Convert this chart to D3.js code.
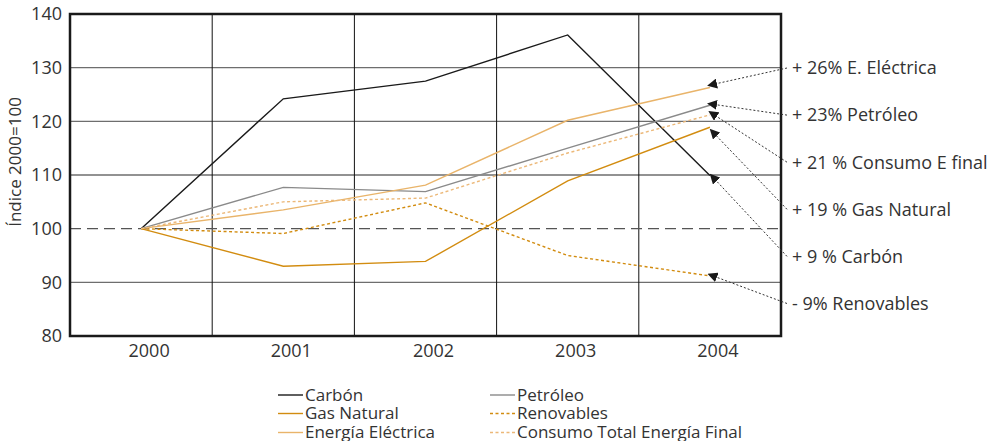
<!DOCTYPE html>
<html>
<head>
<meta charset="utf-8">
<script src="https://cdn.jsdelivr.net/npm/d3@7"></script>
<style>
  html, body { margin: 0; padding: 0; background: #fff; }
  svg { display: block; font-family: "Open Sans", "Noto Sans", sans-serif; }
</style>
</head>
<body>
<svg id="chart" width="990" height="441"></svg>
<script>
const years = ["2000", "2001", "2002", "2003", "2004"];
const carbon = [100, 124.2, 127.5, 136.1, 109.9];
const petroleo = [100, 107.7, 106.9, 115.0, 123.0];
const gasNatural = [100, 93.0, 93.9, 108.9, 118.9];
const renovables = [100, 99.1, 104.8, 95.0, 91.2];
const electrica = [100, 103.5, 108.1, 120.2, 126.3];
const consumo = [100, 105.0, 105.7, 114.1, 121.2];
const yTicks = [80, 90, 100, 110, 120, 130, 140];

const seriesNames = ["Carbón", "Petróleo", "Gas Natural", "Renovables", "Energía Eléctrica", "Consumo Total Energía Final"];
const seriesValues = [carbon, petroleo, gasNatural, renovables, electrica, consumo];
const seriesColors = ["#1a1a1a", "#8a8a8a", "#d28c10", "#d28c10", "#e9b46a", "#ecb878"];
const seriesDash = [null, null, null, "3,2.5", null, "3,2.5"];

const annotLabels = ["+ 26% E. Eléctrica", "+ 23% Petróleo", "+ 21 % Consumo E final", "+ 19 % Gas Natural", "+ 9 % Carbón", "- 9% Renovables"];
const annotTargets = [127.0, 123.1, 121.0, 117.4, 109.0, 91.0];

const svg = d3.select("#chart");
const margin = { left: 70, right: 209, top: 14, bottom: 105 };
const W = 990, H = 441;

const x = d3.scaleBand().domain(years).range([margin.left, W - margin.right]);
const y = d3.scaleLinear().domain([80, 140]).range([H - margin.bottom, margin.top]);
const cx = d => x(d) + x.bandwidth() / 2;

// horizontal gridlines
svg.append("g").selectAll("line").data(yTicks.filter(t => t !== 80 && t !== 140 && t !== 100))
  .join("line")
  .attr("x1", x.range()[0]).attr("x2", x.range()[1])
  .attr("y1", d => y(d)).attr("y2", d => y(d))
  .attr("stroke", "#6e6e6e").attr("stroke-width", 1.4);

// vertical gridlines
svg.append("g").selectAll("line").data(years.slice(1))
  .join("line")
  .attr("x1", d => x(d)).attr("x2", d => x(d))
  .attr("y1", y(80)).attr("y2", y(140))
  .attr("stroke", "#111").attr("stroke-width", 1);

// dashed reference line at 100
svg.append("line")
  .attr("x1", x.range()[0]).attr("x2", x.range()[1])
  .attr("y1", y(100)).attr("y2", y(100))
  .attr("stroke", "#555").attr("stroke-width", 1.3)
  .attr("stroke-dasharray", "11,6");

// frame
svg.append("rect")
  .attr("x", x.range()[0]).attr("y", y(140))
  .attr("width", x.range()[1] - x.range()[0]).attr("height", y(80) - y(140))
  .attr("fill", "none").attr("stroke", "#1a1a1a").attr("stroke-width", 2.5);

// axes
const yAxis = svg.append("g").attr("transform", `translate(${margin.left},0)`)
  .call(d3.axisLeft(y).tickValues(yTicks).tickSize(0).tickPadding(8));
yAxis.select(".domain").remove();
yAxis.selectAll("text").attr("font-size", 18).attr("fill", "#333").attr("font-family", "Open Sans, Noto Sans, sans-serif");

const xAxis = svg.append("g").attr("transform", `translate(0,${y(80)})`)
  .call(d3.axisBottom(x).tickSize(0).tickPadding(8));
xAxis.select(".domain").remove();
xAxis.selectAll("text").attr("font-size", 18).attr("dx", 8).attr("fill", "#333").attr("font-family", "Open Sans, Noto Sans, sans-serif");

svg.append("text")
  .attr("transform", `translate(21,162) rotate(-90)`)
  .attr("text-anchor", "middle")
  .attr("font-size", 17).attr("fill", "#333")
  .text("Índice 2000=100");

// series lines
const line = d3.line().x((d, i) => cx(years[i])).y(d => y(d));
seriesValues.forEach((vals, i) => {
  svg.append("path")
    .attr("d", line(vals))
    .attr("fill", "none")
    .attr("stroke", seriesColors[i])
    .attr("stroke-width", 1.4)
    .attr("stroke-dasharray", seriesDash[i]);
});

// arrow marker
svg.append("defs").append("marker")
  .attr("id", "arrow").attr("viewBox", "0 0 10 10")
  .attr("refX", 1).attr("refY", 5)
  .attr("markerWidth", 10).attr("markerHeight", 10)
  .attr("markerUnits", "userSpaceOnUse")
  .attr("orient", "auto-start-reverse")
  .append("path").attr("d", "M0,0 L10,5 L0,10 z").attr("fill", "#1a1a1a");

// annotations
const labelY0 = 68, labelStep = 47.1;
const xEnd = cx(years[years.length - 1]);
annotLabels.forEach((lab, i) => {
  const ly = labelY0 + i * labelStep;
  svg.append("line")
    .attr("x1", 787).attr("y1", ly)
    .attr("x2", xEnd + 6).attr("y2", y(annotTargets[i]))
    .attr("stroke", "#333").attr("stroke-width", 1)
    .attr("stroke-dasharray", "2,2")
    .attr("marker-end", "url(#arrow)");
  svg.append("text")
    .attr("x", 792).attr("y", ly).attr("dy", "0.35em")
    .attr("font-size", 18).attr("fill", "#333")
    .text(lab);
});

// legend
const legCols = [278, 490];
const legRows = [395, 413.5, 432.5];
seriesNames.forEach((name, i) => {
  const col = i % 2, row = Math.floor(i / 2);
  const lx = legCols[col], ly = legRows[row];
  svg.append("line")
    .attr("x1", lx).attr("x2", lx + 25)
    .attr("y1", ly).attr("y2", ly)
    .attr("stroke", seriesColors[i]).attr("stroke-width", 1.4)
    .attr("stroke-dasharray", seriesDash[i]);
  svg.append("text")
    .attr("x", lx + 27).attr("y", ly).attr("dy", "0.35em")
    .attr("font-size", 17).attr("fill", "#333")
    .text(name);
});
</script>
</body>
</html>
